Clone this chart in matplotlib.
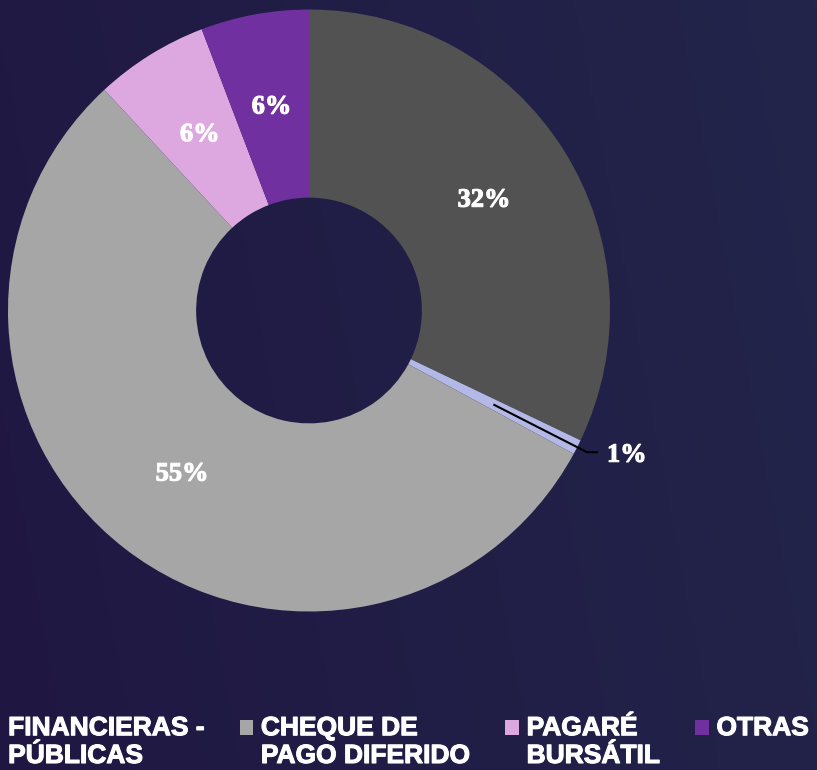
import matplotlib.pyplot as plt
import matplotlib.patches as patches
import matplotlib.patheffects as pe
from matplotlib.legend_handler import HandlerPatch
import numpy as np

# pie data (clockwise from 12 o'clock)
categories = ["OTROS", "FINANCIERAS -\nPÚBLICAS", "CHEQUE DE\nPAGO DIFERIDO", "PAGARÉ\nBURSÁTIL", "OTRAS\n "]
values = [32.1, 0.8, 55.2, 6.1, 5.8]
labels = ["32%", "1%", "55%", "6%", "6%"]
colors = ["#525252", "#b4b8e6", "#a6a6a6", "#dda8df", "#7030a0"]

W, H = 817, 770
fig = plt.figure(figsize=(W / 100, H / 100), dpi=100)

# background gradient
bg = fig.add_axes([0, 0, 1, 1], zorder=-10)
gx = np.linspace(0, 1, 256)
gy = np.linspace(0, 1, 64)
gxx, gyy = np.meshgrid(gx, gy)
t = np.clip(0.85 * gxx + 0.15 * gyy, 0, 1)
c0 = np.array([0x1f, 0x17, 0x42]) / 255
c1 = np.array([0x23, 0x25, 0x4b]) / 255
img = c0[None, None, :] * (1 - t[..., None]) + c1[None, None, :] * t[..., None]
bg.imshow(img, aspect="auto", extent=[0, 1, 0, 1], origin="lower")
bg.axis("off")

# pie axes: centre (309, 310.5) px, radius 301 px
cx, cy, r = 309, 310.5, 301
ax = fig.add_axes([(cx - r) / W, (H - cy - r) / H, 2 * r / W, 2 * r / H])
ax.patch.set_alpha(0)
wedges, _ = ax.pie(values, colors=colors, startangle=90, counterclock=False,
                   radius=1.0, wedgeprops=dict(width=0.625, linewidth=0))
ax.set_xlim(-1, 1)
ax.set_ylim(-1, 1)
ax.set_aspect("equal")
ax.axis("off")

thick = [pe.withStroke(linewidth=0.8, foreground="white")]
label_font = dict(family="Liberation Serif", weight="bold", size=19, color="white")
mid_r = 0.6875
for w, lab in zip(wedges, labels):
    ang = np.deg2rad((w.theta1 + w.theta2) / 2)
    x, y = mid_r * np.cos(ang), mid_r * np.sin(ang)
    if lab == "1%":
        ex, ey = 1.037 * np.cos(ang), 1.037 * np.sin(ang)
        ax.plot([x, ex, ex + 0.036], [y, ey, ey],
                color="black", lw=1.5, solid_capstyle="butt", zorder=5)
        ax.text(ex + 0.066, ey - 0.01, lab, ha="left", va="center",
                path_effects=thick, **label_font)
    else:
        ax.text(x, y, lab, ha="center", va="center", path_effects=thick, **label_font)


# legend squares sit level with the first text line
def top_square(legend, orig_handle, xdescent, ydescent, width, height, fontsize):
    return patches.Rectangle((-xdescent, -ydescent + 0.55 * fontsize), width, height)


handles = [patches.Patch(facecolor=c, edgecolor="none") for c in colors[1:]]
leg = fig.legend(handles, categories[1:], loc="lower left", ncol=4,
                 bbox_to_anchor=(-13 / W, 2 / H), frameon=False,
                 prop=dict(family="Liberation Sans", weight="bold", size=19),
                 handlelength=0.5, handleheight=0.5, handletextpad=0.3,
                 columnspacing=1.35, borderpad=0, borderaxespad=0,
                 handler_map={patches.Patch: HandlerPatch(patch_func=top_square)})
for txt in leg.get_texts():
    txt.set_color("white")
    txt.set_linespacing(1.2)
    txt.set_path_effects(thick)

fig.savefig("out.png", dpi=100)
